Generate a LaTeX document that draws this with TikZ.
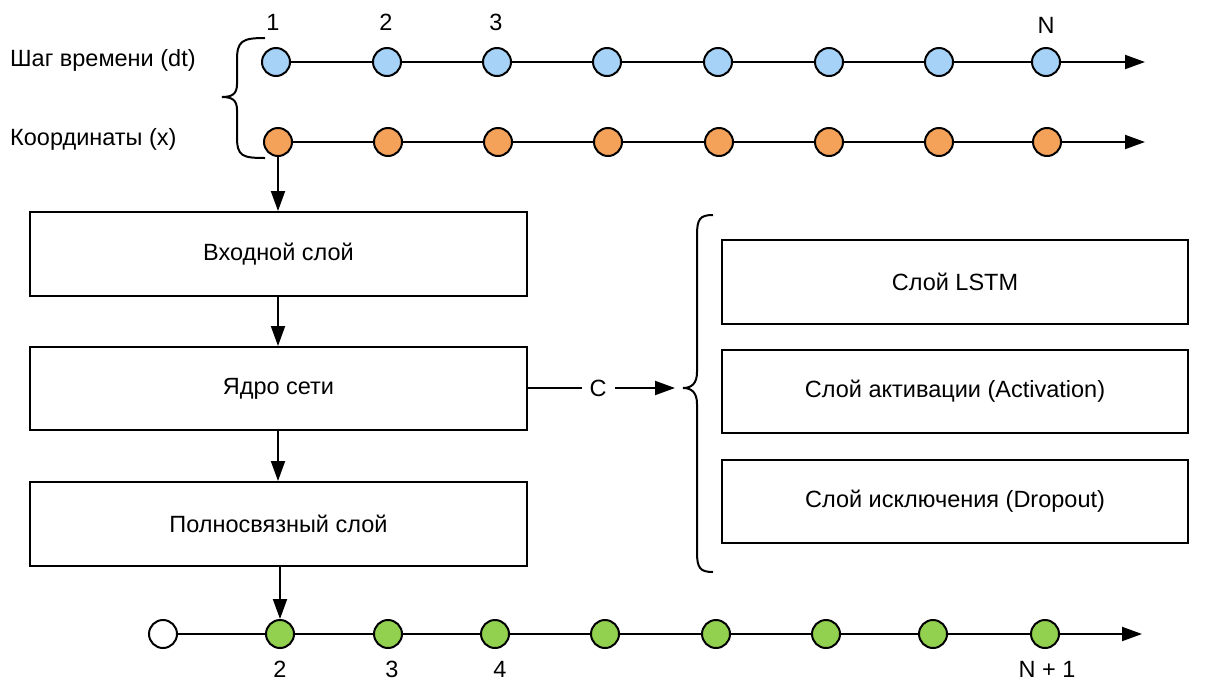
\documentclass[tikz,border=0pt]{standalone}
\usepackage{fontspec}
\setmainfont{Liberation Sans}
\usetikzlibrary{arrows.meta}
\definecolor{cblue}{HTML}{A6D2F8}
\definecolor{corange}{HTML}{F4A25A}
\definecolor{cgreen}{HTML}{92D050}
\tikzset{
  dot/.style={circle,draw=black,line width=2pt,minimum size=28pt,inner sep=0pt},
  bluedot/.style={dot,fill=cblue},
  orangedot/.style={dot,fill=corange},
  greendot/.style={dot,fill=cgreen},
  whitedot/.style={dot,fill=white},
  layerbox/.style={draw=black,line width=2pt,inner sep=0pt,font=\fontsize{23.5}{28}\selectfont},
  lbl/.style={font=\fontsize{23.5}{28}\selectfont,inner sep=1pt},
  conn/.style={line width=2pt},
  arr/.style={line width=2pt,-{Triangle[length=20pt,width=14pt]}},
  brace/.style={line width=2pt},
}
\begin{document}
\begin{tikzpicture}[x=1pt,y=-1pt]
\useasboundingbox (0,0) rectangle (1218,681);
% labels on left
\node[lbl,anchor=west] (lt) at (9,60) {Шаг времени (dt)};
\node[lbl,anchor=west] (lx) at (9,139) {Координаты (x)};
% blue row
\foreach \i/\x in {1/276,2/387,3/497,4/607,5/718,6/829,7/939,8/1046}
  \node[bluedot] (b\i) at (\x,62) {};
\coordinate (bend) at (1145,62);
\foreach \a/\b in {1/2,2/3,3/4,4/5,5/6,6/7,7/8}
  \draw[conn] (b\a) -- (b\b);
\draw[arr] (b8) -- (bend);
\node[lbl] (n1) at (273,22) {1};
\node[lbl] (n2) at (386,22) {2};
\node[lbl] (n3) at (496,22) {3};
\node[lbl] (nN) at (1046,25) {N};
% orange row
\foreach \i/\x in {1/278,2/388,3/498,4/608,5/719,6/829,7/939,8/1047}
  \node[orangedot] (o\i) at (\x,142) {};
\coordinate (oend) at (1145,142);
\foreach \a/\b in {1/2,2/3,3/4,4/5,5/6,6/7,7/8}
  \draw[conn] (o\a) -- (o\b);
\draw[arr] (o8) -- (oend);
% left brace
\draw[brace] (265,38) .. controls (242,38) and (237,41) .. (237,60) -- (237,84)
  .. controls (237,94) and (232,97) .. (222,97)
  .. controls (232,97) and (237,100) .. (237,110) -- (237,137)
  .. controls (237,156) and (242,158) .. (265,158);
% main boxes
\node[layerbox,minimum width=497pt,minimum height=84pt] (in) at (278.5,254) {Входной слой};
\node[layerbox,minimum width=497pt,minimum height=83pt] (core) at (278.5,388.5) {Ядро сети};
\node[layerbox,minimum width=497pt,minimum height=84pt] (fc) at (278.5,524) {Полносвязный слой};
\draw[arr] (o1) -- (o1 |- in.north);
\draw[arr] (in.south -| o1) -- (core.north -| o1);
\draw[arr] (core.south -| o1) -- (fc.north -| o1);
% C connector
\node[lbl] (c) at (598,388) {C};
\coordinate (cend) at (675,388);
\draw[conn] (core.east |- c) -- ([xshift=-6pt]c.west);
\draw[arr] ([xshift=7pt]c.east) -- (cend);
% right brace
\draw[brace] (713,215) .. controls (700,215) and (697,219) .. (697,235) -- (697,372)
  .. controls (697,383) and (692,388) .. (683,388)
  .. controls (692,388) and (697,393) .. (697,404) -- (697,552)
  .. controls (697,568) and (700,572) .. (713,572);
% right boxes
\node[layerbox,minimum width=466pt,minimum height=84pt] (lstm) at (955,282) {Слой LSTM};
\node[layerbox,minimum width=466pt,minimum height=83pt] (act) at (955,391.5) {Слой активации (Activation)};
\node[layerbox,minimum width=466pt,minimum height=83pt] (drop) at (955,501.5) {Слой исключения (Dropout)};
% green row
\node[whitedot] (g0) at (163,634) {};
\foreach \i/\x in {1/280,2/388,3/495,4/605,5/716,6/826,7/933,8/1045}
  \node[greendot] (g\i) at (\x,634) {};
\coordinate (gend) at (1142,634);
\foreach \a/\b in {0/1,1/2,2/3,3/4,4/5,5/6,6/7,7/8}
  \draw[conn] (g\a) -- (g\b);
\draw[arr] (g8) -- (gend);
\draw[arr] (fc.south -| g1) -- (g1);
\node[lbl] (m2) at (280,669) {2};
\node[lbl] (m3) at (392,669) {3};
\node[lbl] (m4) at (500,669) {4};
\node[lbl] (mN) at (1047,669) {N + 1};
\end{tikzpicture}
\end{document}
